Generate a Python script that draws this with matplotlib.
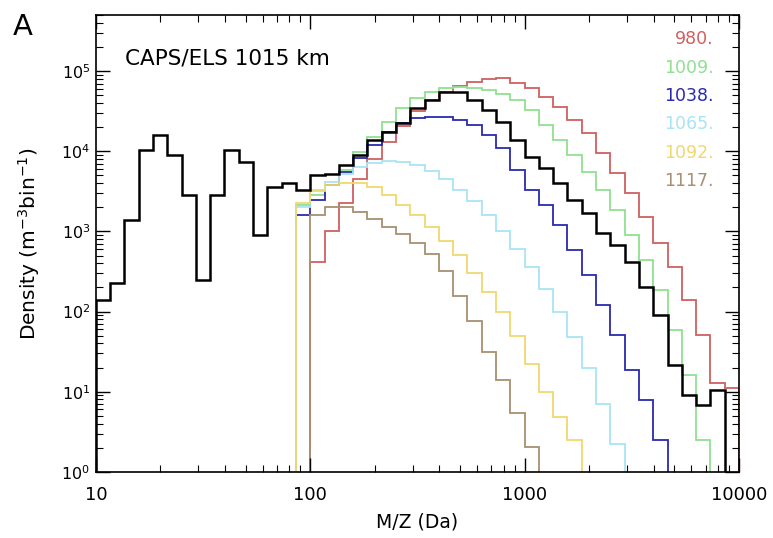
import numpy as np
import matplotlib
matplotlib.use("Agg")
import matplotlib.pyplot as plt

# mass bin edges (Da), 15 bins per decade
mass_edges = [10.0, 11.66, 13.59, 15.85, 18.48, 21.54, 25.12, 29.29, 34.15, 39.81,
              46.42, 54.12, 63.10, 73.56, 85.77, 100.0, 116.6, 135.9, 158.5, 184.8,
              215.4, 251.2, 292.9, 341.5, 398.1, 464.2, 541.2, 631.0, 735.6, 857.7,
              1000.0, 1166.0, 1359.0, 1585.0, 1848.0, 2154.0, 2512.0, 2929.0, 3415.0, 3981.0,
              4642.0, 5412.0, 6310.0, 7356.0, 8577.0, 10000.0]

# log10 density per bin, first value sits in bin given by *_start
black_start = 0
black_log = [2.14, 2.36, 3.14, 4.01, 4.20, 3.95, 3.45, 2.39, 3.45, 4.01,
             3.87, 2.96, 3.55, 3.60, 3.52, 3.70, 3.72, 3.83, 3.95, 4.14,
             4.24, 4.35, 4.54, 4.64, 4.74, 4.74, 4.64, 4.51, 4.36, 4.14,
             3.93, 3.79, 3.60, 3.39, 3.23, 2.98, 2.83, 2.62, 2.31, 1.96,
             1.33, 0.96, 0.84, 1.02]

red_start = 15
red_log = [2.62, 3.00, 3.35, 3.65, 3.90, 4.12, 4.32, 4.50, 4.64, 4.74,
           4.82, 4.87, 4.90, 4.91, 4.85, 4.79, 4.68, 4.55, 4.39, 4.23,
           3.98, 3.73, 3.48, 3.18, 2.86, 2.56, 2.14, 1.71, 1.11, 1.05]

green_start = 14
green_log = [3.33, 3.45, 3.58, 3.77, 3.99, 4.18, 4.36, 4.54, 4.66, 4.74,
             4.79, 4.80, 4.79, 4.76, 4.71, 4.64, 4.51, 4.33, 4.14, 3.95,
             3.74, 3.52, 3.27, 2.96, 2.64, 2.27, 1.77, 1.21, 0.40]

blue_start = 14
blue_log = [3.20, 3.39, 3.58, 3.74, 3.92, 4.08, 4.24, 4.35, 4.41, 4.43,
            4.43, 4.39, 4.33, 4.20, 4.04, 3.77, 3.52, 3.33, 3.08, 2.77,
            2.46, 2.08, 1.71, 1.27, 0.90, 0.40]

cyan_start = 14
cyan_log = [3.30, 3.50, 3.62, 3.72, 3.80, 3.86, 3.88, 3.87, 3.83, 3.75,
            3.65, 3.52, 3.38, 3.20, 3.00, 2.78, 2.55, 2.28, 2.00, 1.68,
            1.30, 0.85, 0.35]

yellow_start = 14
yellow_log = [3.35, 3.52, 3.58, 3.60, 3.60, 3.55, 3.45, 3.33, 3.20, 3.05,
              2.88, 2.70, 2.48, 2.25, 2.00, 1.70, 1.35, 1.00, 0.68, 0.40]

brown_start = 15
brown_log = [3.20, 3.30, 3.30, 3.24, 3.15, 3.05, 2.97, 2.86, 2.72, 2.50,
             2.20, 1.88, 1.50, 1.15, 0.74, 0.31]

altitudes = ["980.", "1009.", "1038.", "1065.", "1092.", "1117."]
alt_colors = ["#d06060", "#90e090", "#2a2ab0", "#a8e4f4", "#f0d870", "#a89070"]

x_ticks = [10, 100, 1000, 10000]
x_ticklabels = ["10", "100", "1000", "10000"]
y_ticks = [1, 10, 100, 1e3, 1e4, 1e5]

edges = np.array(mass_edges)
baseline = 0.1

fig = plt.figure(figsize=(7.73, 5.38), dpi=100)
ax = fig.add_axes([0.124, 0.123, 0.832, 0.849])

colored = [(red_start, red_log), (green_start, green_log), (blue_start, blue_log),
           (cyan_start, cyan_log), (yellow_start, yellow_log), (brown_start, brown_log)]
for (start, vals), col in zip(colored, alt_colors):
    n = len(vals)
    ax.stairs(10 ** np.array(vals), edges[start:start + n + 1], baseline=baseline,
              color=col, lw=1.3)

n = len(black_log)
ax.stairs(10 ** np.array(black_log), edges[black_start:black_start + n + 1],
          baseline=baseline, color="black", lw=1.8)

ax.set_xscale("log")
ax.set_yscale("log")
ax.set_xlim(10, 10000)
ax.set_ylim(1, 10 ** 5.7)
ax.set_xticks(x_ticks)
ax.set_xticklabels(x_ticklabels)
ax.set_yticks(y_ticks)

ax.tick_params(which="both", direction="in", top=True, right=True)
ax.tick_params(axis="x", labelsize=13, pad=10)
ax.tick_params(axis="y", labelsize=11.5, pad=4)
ax.tick_params(which="major", length=10, width=1)
ax.tick_params(which="minor", length=5, width=0.8)
for s in ax.spines.values():
    s.set_linewidth(1.2)

ax.set_xlabel("M/Z (Da)", fontsize=13.5, labelpad=6)
ax.set_ylabel("Density (m$^{-3}$bin$^{-1}$)", fontsize=14.5, labelpad=14)

ax.text(0.045, 0.905, "CAPS/ELS 1015 km", transform=ax.transAxes, fontsize=15.5,
        va="center")
fig.text(0.016, 0.935, "A", fontsize=21)

for i, (lab, col) in enumerate(zip(altitudes, alt_colors)):
    ax.text(0.96, 0.947 - i * 0.062, lab, transform=ax.transAxes, color=col,
            fontsize=12.5, ha="right", va="center")

plt.savefig("out.png", dpi=100)
